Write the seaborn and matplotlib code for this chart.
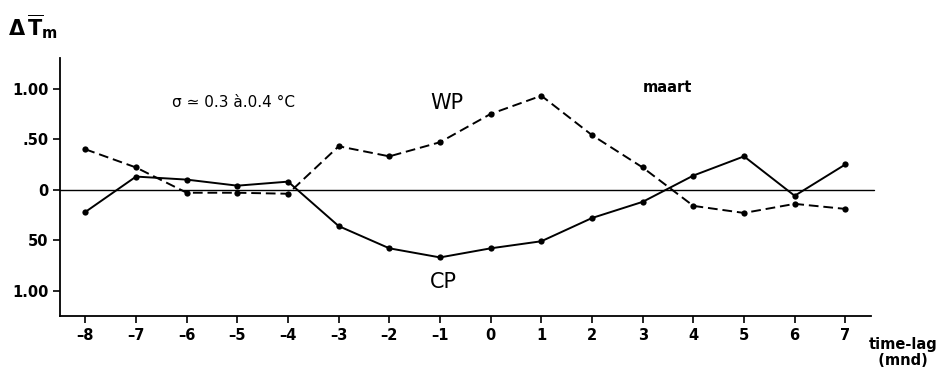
import numpy as np
import pandas as pd
import matplotlib
matplotlib.use("Agg")
import matplotlib.pyplot as plt
import seaborn as sns

lags = [-8, -7, -6, -5, -4, -3, -2, -1, 0, 1, 2, 3, 4, 5, 6, 7]
wp = [0.40, 0.22, -0.03, -0.03, -0.04, 0.43, 0.33, 0.47, 0.75, 0.93, 0.54, 0.22, -0.16, -0.23, -0.14, -0.19]
cp = [-0.22, 0.13, 0.10, 0.04, 0.08, -0.36, -0.58, -0.67, -0.58, -0.51, -0.28, -0.12, 0.14, 0.33, -0.06, 0.25]
x_ticklabels = ["\u20138", "\u20137", "\u20136", "\u20135", "\u20134", "\u20133", "\u20132", "\u20131",
                "0", "1", "2", "3", "4", "5", "6", "7"]
y_ticks = [1.0, 0.5, 0.0, -0.5, -1.0]
y_ticklabels = ["1.00", ".50", "0", "50", "1.00"]

sns.set_style("ticks")
plt.rcParams["font.family"] = ["DejaVu Sans"]
plt.rcParams["text.color"] = "black"
plt.rcParams["xtick.color"] = "black"
plt.rcParams["ytick.color"] = "black"

df = pd.DataFrame({
    "lag": lags * 2,
    "val": wp + cp,
    "series": ["WP"] * len(lags) + ["CP"] * len(lags),
})

fig = plt.figure(figsize=(9.47, 3.74), dpi=100)
ax = fig.add_axes([0.0634, 0.155, 0.856, 0.689])

sns.lineplot(data=df, x="lag", y="val", style="series",
             dashes={"WP": (5, 2.5), "CP": ""},
             markers={"WP": "o", "CP": "o"},
             color="black", linewidth=1.4, markersize=4.5,
             markeredgewidth=0, legend=False, ax=ax)

ax.axhline(0, color="black", linewidth=1.0, xmax=1.004, clip_on=False)

ax.set_xlim(-8.5, 7.5)
ax.set_ylim(-1.25, 1.30)
ax.set_xticks(lags)
ax.set_xticklabels(x_ticklabels, fontsize=10.5, fontweight="bold", color="black")
ax.set_yticks(y_ticks)
ax.set_yticklabels(y_ticklabels, fontsize=10.5, fontweight="bold", color="black")
ax.tick_params(direction="out", length=5, width=1.2, colors="black")
ax.set_xlabel("")
ax.set_ylabel("")
sns.despine(ax=ax)
for s in ["left", "bottom"]:
    ax.spines[s].set_linewidth(1.3)
    ax.spines[s].set_color("black")

fig.text(0.008, 0.905, r"$\mathbf{\Delta\,\overline{T}_m}$", fontsize=15, color="black")
ax.text(-6.3, 0.82, "\u03c3 \u2243 0.3 \u00e0.0.4 \u00b0C", fontsize=11, color="black")
ax.text(-1.2, 0.80, "WP", fontsize=15, color="black")
ax.text(-1.2, -0.97, "CP", fontsize=15, color="black")
ax.text(3.0, 0.97, "maart", fontsize=10.5, fontweight="bold", color="black")
fig.text(0.917, 0.015, "time-lag\n  (mnd)", fontsize=10.5, fontweight="bold",
         linespacing=1.15, va="bottom", color="black")

fig.savefig("out.png", dpi=100, facecolor="white")
